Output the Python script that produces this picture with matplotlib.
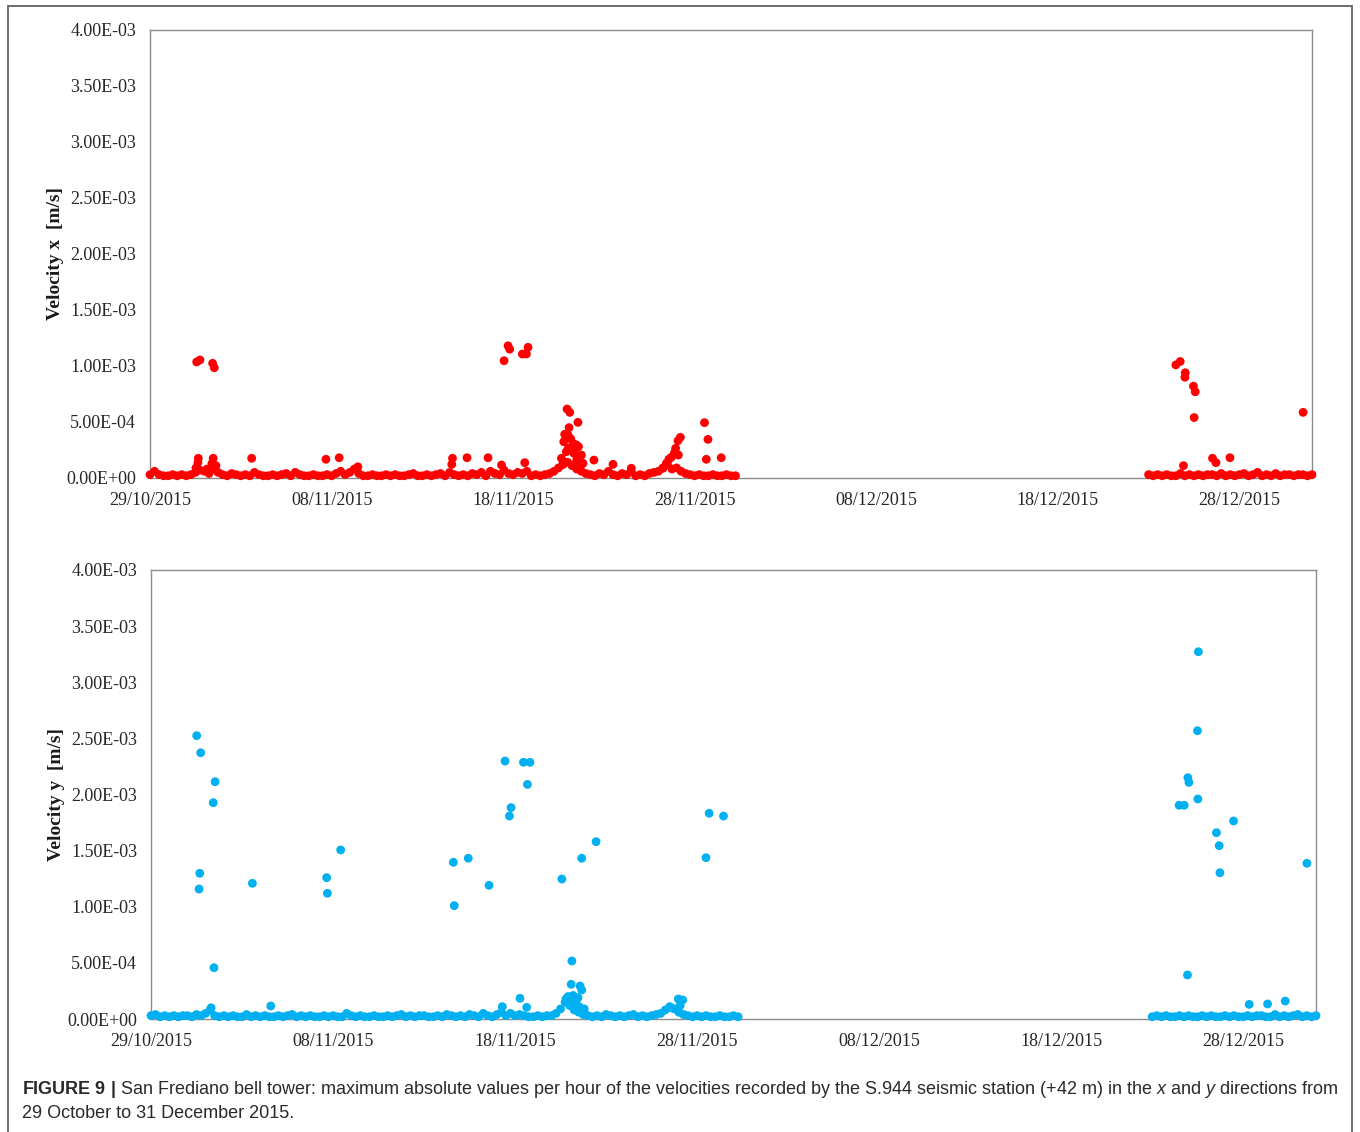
import numpy as np
import matplotlib
matplotlib.use("Agg")
import matplotlib.pyplot as plt
from matplotlib.patches import Rectangle

# ---------------- data ----------------
# x axis: days since 29/10/2015
tick_days = [0, 10, 20, 30, 40, 50, 60]
date_labels = ['29/10/2015', '08/11/2015', '18/11/2015', '28/11/2015',
               '08/12/2015', '18/12/2015', '28/12/2015']
y_ticks = [0, 5e-4, 1e-3, 1.5e-3, 2e-3, 2.5e-3, 3e-3, 3.5e-3, 4e-3]

# background level sampled every 6 h (units 1e-5 m/s)
# period 1: 29/10 00:00 -> 30/11 06:00 ; period 2: 23/12 00:00 -> 01/01 00:00
base_x_p1 = [3, 6, 3, 2, 2, 3, 2, 3, 2, 3, 5, 7, 6, 4, 8, 5, 3, 2, 4, 3,
             2, 3, 2, 5, 3, 2, 2, 3, 2, 3, 4, 2, 5, 3, 2, 2, 3, 2, 2, 3,
             2, 4, 6, 3, 5, 8, 4, 2, 2, 3, 2, 2, 3, 2, 3, 2, 2, 3, 4, 2,
             2, 3, 2, 3, 4, 2, 5, 3, 2, 3, 2, 4, 3, 5, 2, 6, 4, 3, 7, 4,
             3, 5, 4, 6, 2, 3, 2, 3, 4, 6, 9, 12, 14, 11, 8, 6, 4, 3, 2, 4,
             3, 6, 3, 2, 4, 3, 6, 2, 3, 2, 4, 5, 6, 9, 12, 8, 9, 6, 4, 3,
             2, 3, 2, 2, 3, 2, 2, 3, 2, 2]
base_x_p2 = [3, 2, 3, 2, 3, 2, 2, 4, 2, 3, 2, 3, 2, 3, 3, 2, 4, 2, 3, 2,
             3, 4, 2, 3, 5, 2, 3, 2, 4, 2, 3, 3, 2, 3, 3, 2, 3]
base_y_p1 = [3, 4, 2, 3, 2, 3, 2, 3, 3, 2, 4, 3, 5, 8, 3, 2, 3, 2, 3, 2,
             2, 4, 2, 3, 2, 3, 2, 2, 3, 2, 3, 4, 2, 3, 2, 3, 2, 2, 3, 2,
             3, 2, 2, 5, 3, 2, 3, 2, 2, 3, 2, 2, 3, 2, 3, 4, 2, 3, 2, 3,
             3, 2, 2, 3, 2, 4, 3, 2, 3, 2, 4, 3, 2, 5, 3, 2, 4, 6, 3, 5,
             3, 4, 3, 2, 2, 3, 2, 3, 3, 5, 9, 15, 12, 8, 6, 4, 3, 2, 3, 2,
             4, 3, 2, 3, 2, 3, 4, 2, 3, 2, 3, 4, 5, 8, 11, 9, 6, 4, 3, 2,
             3, 2, 3, 2, 2, 3, 2, 2, 3, 2]
base_y_p2 = [2, 3, 2, 3, 2, 2, 3, 2, 3, 2, 2, 3, 2, 3, 2, 2, 3, 2, 3, 2,
             2, 3, 2, 3, 3, 2, 2, 4, 2, 3, 2, 3, 4, 2, 3, 2, 3]

# peaks (day since 29/10/2015, velocity m/s)
peak_x_day = [2.57, 2.75, 3.45, 3.54, 2.66, 2.64, 2.53, 3.48, 3.41, 3.63, 3.14,
              5.60, 9.69, 10.42, 11.45, 16.66, 16.62, 17.46, 18.62, 19.36, 20.64,
              19.50, 19.72, 19.81, 20.51, 20.73, 20.82,
              22.97, 23.12, 23.57, 23.08, 22.84, 23.02, 22.79, 23.30, 23.48, 23.04,
              22.93, 23.39, 23.76, 22.66, 22.75, 23.50, 23.85, 24.45, 23.70, 25.50,
              26.51, 23.17, 23.35, 23.60,
              30.54, 30.73, 30.64, 31.46, 29.21, 29.08, 28.95, 28.89, 29.10, 28.71,
              28.58, 28.44, 28.25,
              56.50, 56.74, 57.02, 57.00, 57.47, 57.57, 57.51, 56.92, 58.52, 58.71,
              59.48, 63.51]
peak_x_val = [1.036e-3, 1.054e-3, 1.024e-3, 0.985e-3, 1.76e-4, 1.37e-4, 0.9e-4, 1.76e-4,
              1.3e-4, 1.1e-4, 0.8e-4,
              1.76e-4, 1.67e-4, 1.81e-4, 1.0e-4, 1.76e-4, 1.22e-4, 1.81e-4, 1.81e-4,
              1.16e-4, 1.37e-4,
              1.047e-3, 1.18e-3, 1.15e-3, 1.107e-3, 1.107e-3, 1.167e-3,
              6.16e-4, 5.86e-4, 4.97e-4, 4.5e-4, 3.9e-4, 3.84e-4, 3.24e-4, 3.1e-4,
              2.95e-4, 2.65e-4, 2.35e-4, 2.5e-4, 2.05e-4, 1.76e-4, 1.31e-4, 1.6e-4,
              1.31e-4, 1.6e-4, 1.0e-4, 1.22e-4, 0.87e-4, 3.5e-4, 2.2e-4, 2.8e-4,
              4.94e-4, 3.45e-4, 1.67e-4, 1.81e-4, 3.63e-4, 3.33e-4, 2.65e-4, 2.26e-4,
              2.05e-4, 1.85e-4, 1.67e-4, 1.31e-4, 0.87e-4,
              1.01e-3, 1.04e-3, 0.94e-3, 0.90e-3, 0.82e-3, 0.77e-3, 5.4e-4, 1.1e-4,
              1.76e-4, 1.37e-4, 1.81e-4, 5.86e-4]

peak_y_day = [2.51, 2.73, 3.52, 3.42, 2.68, 2.64, 3.46, 3.30, 5.57, 6.58, 9.65,
              9.69, 10.42, 16.61, 16.66, 17.43, 18.57, 19.45, 20.46, 20.82, 20.68,
              19.78, 19.69, 19.30, 20.27, 20.64,
              22.57, 23.12, 23.08, 23.57, 23.66, 23.66, 24.45,
              22.80, 22.91, 23.02, 23.19, 23.35, 23.46, 23.30, 23.52, 23.80,
              30.49, 30.66, 31.45, 28.97, 29.21, 28.61, 29.07,
              57.54, 57.49, 56.96, 57.02, 57.51, 56.48, 56.76, 59.47, 58.53, 58.68,
              58.72, 63.50, 56.94, 60.33, 61.34, 62.31]
peak_y_val = [2.524e-3, 2.372e-3, 2.114e-3, 1.927e-3, 1.298e-3, 1.158e-3, 0.457e-3,
              1.0e-4, 1.209e-3, 1.16e-4, 1.259e-3, 1.12e-3, 1.506e-3, 1.396e-3,
              1.01e-3, 1.432e-3, 1.191e-3, 2.298e-3, 2.287e-3, 2.287e-3, 2.09e-3,
              1.883e-3, 1.808e-3, 1.1e-4, 1.84e-4, 1.04e-4,
              1.247e-3, 0.517e-3, 3.09e-4, 2.94e-4, 2.58e-4, 1.432e-3, 1.58e-3,
              1.8e-4, 2.0e-4, 1.5e-4, 2.1e-4, 1.6e-4, 1.9e-4, 1.2e-4, 1.1e-4, 0.9e-4,
              1.437e-3, 1.833e-3, 1.808e-3, 1.78e-4, 1.7e-4, 0.98e-4, 1.2e-4,
              3.272e-3, 2.568e-3, 2.15e-3, 2.108e-3, 1.96e-3, 1.904e-3, 1.904e-3,
              1.764e-3, 1.66e-3, 1.544e-3, 1.303e-3, 1.387e-3, 0.392e-3, 1.3e-4,
              1.34e-4, 1.6e-4]

# ---------------- figure ----------------
W, H = 1360, 1132
fig = plt.figure(figsize=(W / 100, H / 100), dpi=100)
fig.patch.set_facecolor('white')

serif = ['Liberation Serif', 'DejaVu Serif']
tick_col = '#262626'
spine_col = '#8c8c8c'
MS = 40


def px_rect(l, t, r, b):
    return [l / W, 1 - b / H, (r - l) / W, (b - t) / H]


def sample_days(start, n):
    return [start + 0.25 * i for i in range(n)]


def draw_panel(ax, base1, base2, pday, pval, color, label):
    d1 = sample_days(0.0, len(base1))
    d2 = sample_days(55.0, len(base2))
    bx = d1 + d2
    by = [v * 1e-5 for v in base1 + base2]
    ax.scatter(bx, by, s=MS, color=color, edgecolors='none', clip_on=False, zorder=3)
    ax.scatter(pday, pval, s=MS, color=color, edgecolors='none', clip_on=False, zorder=3)
    ax.set_xlim(0, 64)
    ax.set_ylim(0, 4e-3)
    ax.set_xticks(tick_days)
    ax.set_xticklabels(date_labels, fontfamily=serif, fontsize=13.0, color=tick_col)
    ax.set_yticks(y_ticks)
    ax.set_yticklabels([f"{v:.2E}" for v in y_ticks], fontfamily=serif,
                       fontsize=13.0, color=tick_col)
    ax.tick_params(axis='y', length=0, pad=10)
    ax.tick_params(axis='x', length=0, pad=10)
    for s in ax.spines.values():
        s.set_color(spine_col)
        s.set_linewidth(1.0)
    ax.set_ylabel(label, fontfamily=serif, fontweight='bold', fontsize=14,
                  color='#1a1a1a')


ax1 = fig.add_axes(px_rect(150, 30, 1312, 478))
draw_panel(ax1, base_x_p1, base_x_p2, peak_x_day, peak_x_val, '#ff0000',
           'Velocity x  [m/s]')
ax2 = fig.add_axes(px_rect(151, 570, 1316, 1019))
draw_panel(ax2, base_y_p1, base_y_p2, peak_y_day, peak_y_val, '#00b0f0',
           'Velocity y  [m/s]')
for ax in (ax1, ax2):
    ax.yaxis.set_label_coords(-0.074, 0.5)

# outer frame
fig.patches.append(Rectangle((8 / W, -0.01), (1352 - 8) / W, 1.01 - 6 / H,
                             transform=fig.transFigure, fill=False,
                             edgecolor='#6e6e6e', linewidth=1.4))

# caption
plt.rcParams['mathtext.fontset'] = 'custom'
plt.rcParams['mathtext.rm'] = 'Liberation Sans'
plt.rcParams['mathtext.it'] = 'Liberation Sans:italic'
plt.rcParams['mathtext.bf'] = 'Liberation Sans:bold'
cap1 = (r"$\mathbf{FIGURE\ 9\ |}$ San Frediano bell tower: maximum absolute values per hour "
        r"of the velocities recorded by the S.944 seismic station (+42 m) in the "
        r"$\it{x}$ and $\it{y}$ directions from")
cap2 = "29 October to 31 December 2015."
fig.text(22 / W, 1 - 1090 / H, cap1, fontfamily='Liberation Sans', fontsize=12.96,
         color='#2a2a2a', va='center', ha='left')
fig.text(22 / W, 1 - 1113 / H, cap2, fontfamily='Liberation Sans', fontsize=12.96,
         color='#2a2a2a', va='center', ha='left')

fig.savefig('out.png', dpi=100, facecolor='white')
